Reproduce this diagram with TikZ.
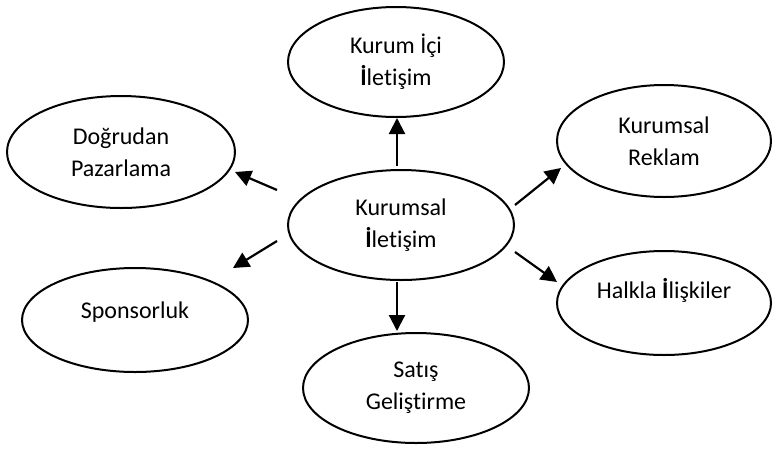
\documentclass[tikz,border=0pt]{standalone}
\usepackage{fontspec}
\setmainfont{Carlito}[Ligatures={NoCommon,NoRare,NoContextual},RawFeature={-liga;-dlig;-clig}]
\usetikzlibrary{shapes.geometric,arrows.meta}
\begin{document}
\begin{tikzpicture}[x=1pt,y=-1pt,
  oval/.style={draw,ellipse,line width=2pt,inner sep=0pt,align=center,
    font=\fontsize{24}{32}\selectfont},
  lbl/.style={inner sep=0pt,font=\fontsize{24}{32}\selectfont},
  arr/.style={line width=2.2pt,-{Triangle[length=16pt,width=16pt]}}]
\useasboundingbox (0,0) rectangle (776,448);
\node[oval,minimum width=216pt,minimum height=110pt] (ici) at (396,62) {Kurum İçi\\\textbf{İ}letişim};
\node[oval,minimum width=228pt,minimum height=112pt] (dogru) at (121,152) {Doğrudan\\Pazarlama};
\node[oval,minimum width=226pt,minimum height=110pt] (merkez) at (401,225) {Kurumsal\\\textbf{İ}letişim};
\node[oval,minimum width=214pt,minimum height=112pt] (reklam) at (664,141) {Kurumsal\\Reklam};
\node[oval,minimum width=214pt,minimum height=104pt] (halkla) at (664,303) {};
\node[lbl] (halklat) at (664,290) {Halkla \textbf{İ}lişkiler};
\node[oval,minimum width=226pt,minimum height=104pt] (sponsor) at (135,320) {};
\node[lbl] (sponsort) at (135,312) {Sponsorluk};
\node[oval,minimum width=226pt,minimum height=110pt] (satis) at (416,388) {Satış\\Geliştirme};
\coordinate (a1) at (397,166); \coordinate (b1) at (397,118);
\coordinate (a2) at (277,190); \coordinate (b2) at (235,172);
\coordinate (a3) at (277,241); \coordinate (b3) at (233,268);
\coordinate (a4) at (515,205); \coordinate (b4) at (561,168);
\coordinate (a5) at (515,252); \coordinate (b5) at (557,282);
\coordinate (a6) at (397,282); \coordinate (b6) at (397,331);
\draw[arr] (a1) -- (b1);
\draw[arr] (a2) -- (b2);
\draw[arr] (a3) -- (b3);
\draw[arr] (a4) -- (b4);
\draw[arr] (a5) -- (b5);
\draw[arr] (a6) -- (b6);
\end{tikzpicture}
\end{document}
